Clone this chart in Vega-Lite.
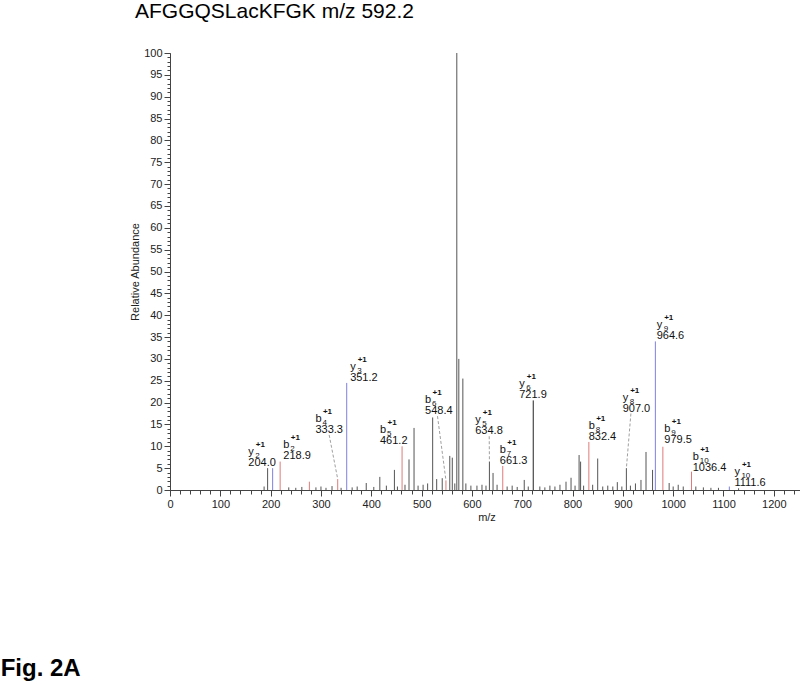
{
  "$schema": "https://vega.github.io/schema/vega-lite/v6.json",
  "padding": {"left": 0, "top": 1, "right": 0, "bottom": 0},
  "background": "white",
  "title": {"text": "Fig. 2A", "orient": "bottom", "anchor": "start", "frame": "bounds", "font": "Liberation Sans", "fontSize": 24, "fontWeight": "bold", "color": "#000", "offset": 135, "dx": -129},
  "config": {"view": {"stroke": null}},
  "datasets": {
    "peaks": [
      {"mz": 187, "ab": 0.8, "kind": "g"}, {"mz": 194, "ab": 5.0, "kind": "g"}, {"mz": 204.0, "ab": 5.0, "kind": "y"},
      {"mz": 218.9, "ab": 6.5, "kind": "b"}, {"mz": 236, "ab": 0.6, "kind": "g"}, {"mz": 250, "ab": 0.5, "kind": "g"},
      {"mz": 262, "ab": 0.7, "kind": "g"}, {"mz": 277, "ab": 1.9, "kind": "b"}, {"mz": 290, "ab": 0.6, "kind": "g"},
      {"mz": 300, "ab": 0.8, "kind": "g"}, {"mz": 310, "ab": 0.5, "kind": "g"}, {"mz": 322, "ab": 0.9, "kind": "g"},
      {"mz": 333.3, "ab": 2.5, "kind": "b"}, {"mz": 340, "ab": 0.5, "kind": "g"}, {"mz": 351.2, "ab": 24.5, "kind": "y"},
      {"mz": 362, "ab": 0.6, "kind": "g"}, {"mz": 372, "ab": 0.8, "kind": "g"}, {"mz": 390, "ab": 1.6, "kind": "g"},
      {"mz": 405, "ab": 0.7, "kind": "g"}, {"mz": 417, "ab": 3.0, "kind": "g"}, {"mz": 430, "ab": 1.0, "kind": "g"},
      {"mz": 446, "ab": 4.6, "kind": "g"}, {"mz": 452, "ab": 0.8, "kind": "g"}, {"mz": 461.2, "ab": 10.0, "kind": "b"},
      {"mz": 467, "ab": 1.2, "kind": "g"}, {"mz": 475, "ab": 7.0, "kind": "g"}, {"mz": 485, "ab": 14.2, "kind": "g"},
      {"mz": 493, "ab": 1.0, "kind": "g"}, {"mz": 503, "ab": 1.2, "kind": "g"}, {"mz": 512, "ab": 1.5, "kind": "g"},
      {"mz": 522, "ab": 16.6, "kind": "g"}, {"mz": 530, "ab": 2.5, "kind": "g"}, {"mz": 541, "ab": 2.7, "kind": "g"},
      {"mz": 548.4, "ab": 2.2, "kind": "b"}, {"mz": 556, "ab": 7.8, "kind": "g"}, {"mz": 561, "ab": 7.4, "kind": "g"},
      {"mz": 566, "ab": 1.5, "kind": "g"}, {"mz": 570, "ab": 100, "kind": "g"}, {"mz": 574, "ab": 30, "kind": "g"},
      {"mz": 582, "ab": 25.5, "kind": "g"}, {"mz": 588, "ab": 1.5, "kind": "g"}, {"mz": 598, "ab": 1.0, "kind": "g"},
      {"mz": 610, "ab": 1.0, "kind": "g"}, {"mz": 620, "ab": 1.2, "kind": "g"}, {"mz": 628, "ab": 1.0, "kind": "g"},
      {"mz": 634.8, "ab": 6.5, "kind": "g"}, {"mz": 642, "ab": 3.9, "kind": "g"}, {"mz": 650, "ab": 1.2, "kind": "g"},
      {"mz": 661.3, "ab": 5.5, "kind": "b"}, {"mz": 670, "ab": 0.8, "kind": "g"}, {"mz": 680, "ab": 1.0, "kind": "g"},
      {"mz": 690, "ab": 0.7, "kind": "g"}, {"mz": 704, "ab": 2.3, "kind": "g"}, {"mz": 712, "ab": 0.8, "kind": "g"},
      {"mz": 721.9, "ab": 20.5, "kind": "k"}, {"mz": 735, "ab": 0.8, "kind": "g"}, {"mz": 745, "ab": 0.6, "kind": "g"},
      {"mz": 755, "ab": 1.0, "kind": "g"}, {"mz": 765, "ab": 0.8, "kind": "g"}, {"mz": 775, "ab": 1.2, "kind": "g"},
      {"mz": 787, "ab": 1.9, "kind": "g"}, {"mz": 797, "ab": 2.8, "kind": "g"}, {"mz": 805, "ab": 1.0, "kind": "g"},
      {"mz": 813, "ab": 8.0, "kind": "g"}, {"mz": 816, "ab": 6.5, "kind": "g"}, {"mz": 822, "ab": 1.0, "kind": "g"},
      {"mz": 832.4, "ab": 11.0, "kind": "b"}, {"mz": 840, "ab": 1.2, "kind": "g"}, {"mz": 850, "ab": 7.2, "kind": "g"},
      {"mz": 860, "ab": 0.8, "kind": "g"}, {"mz": 870, "ab": 1.0, "kind": "g"}, {"mz": 880, "ab": 0.8, "kind": "g"},
      {"mz": 889, "ab": 1.8, "kind": "g"}, {"mz": 898, "ab": 0.8, "kind": "g"}, {"mz": 907.0, "ab": 5.0, "kind": "g"},
      {"mz": 915, "ab": 1.0, "kind": "g"}, {"mz": 925, "ab": 1.5, "kind": "g"}, {"mz": 936, "ab": 2.3, "kind": "g"},
      {"mz": 946, "ab": 8.7, "kind": "g"}, {"mz": 959, "ab": 4.6, "kind": "g"}, {"mz": 964.6, "ab": 34.0, "kind": "y"},
      {"mz": 979.5, "ab": 9.9, "kind": "b"}, {"mz": 992, "ab": 1.6, "kind": "g"}, {"mz": 1000, "ab": 0.8, "kind": "g"},
      {"mz": 1010, "ab": 1.2, "kind": "g"}, {"mz": 1020, "ab": 0.8, "kind": "g"}, {"mz": 1036.4, "ab": 4.2, "kind": "b"},
      {"mz": 1045, "ab": 0.8, "kind": "g"}, {"mz": 1060, "ab": 0.6, "kind": "g"}, {"mz": 1075, "ab": 0.5, "kind": "g"},
      {"mz": 1090, "ab": 0.5, "kind": "g"}, {"mz": 1111.6, "ab": 0.8, "kind": "y"}, {"mz": 1130, "ab": 0.4, "kind": "g"}
    ],
    "labels": [
      {"ion": "y", "num": "2", "val": "204.0", "lx": 155.7, "ly": 5.0},
      {"ion": "b", "num": "2", "val": "218.9", "lx": 225.3, "ly": 6.6},
      {"ion": "b", "num": "4", "val": "333.3", "lx": 289, "ly": 12.6},
      {"ion": "y", "num": "3", "val": "351.2", "lx": 358, "ly": 24.5},
      {"ion": "b", "num": "5", "val": "461.2", "lx": 417.3, "ly": 10.0},
      {"ion": "b", "num": "6", "val": "548.4", "lx": 507, "ly": 16.9},
      {"ion": "y", "num": "5", "val": "634.8", "lx": 606.6, "ly": 12.3},
      {"ion": "b", "num": "7", "val": "661.3", "lx": 655.5, "ly": 5.5},
      {"ion": "y", "num": "6", "val": "721.9", "lx": 694.1, "ly": 20.7},
      {"ion": "b", "num": "8", "val": "832.4", "lx": 832, "ly": 11.0},
      {"ion": "y", "num": "8", "val": "907.0", "lx": 899.6, "ly": 17.5},
      {"ion": "y", "num": "9", "val": "964.6", "lx": 967.2, "ly": 34.0},
      {"ion": "b", "num": "9", "val": "979.5", "lx": 982.5, "ly": 10.3},
      {"ion": "b", "num": "10", "val": "1036.4", "lx": 1038.8, "ly": 3.95},
      {"ion": "y", "num": "10", "val": "1111.6", "lx": 1121.7, "ly": 0.5}
    ],
    "leaders": [
      {"x1": 316.3, "y1": 12.6, "x2": 333.3, "y2": 2.5},
      {"x1": 531.6, "y1": 16.9, "x2": 548.4, "y2": 2.2},
      {"x1": 634.4, "y1": 12.3, "x2": 634.8, "y2": 6.5},
      {"x1": 916, "y1": 17.5, "x2": 907.0, "y2": 5.0}
    ]
  },
  "vconcat": [
    {
      "title": {"text": "AFGGQSLacKFGK m/z 592.2", "anchor": "start", "frame": "group", "font": "Liberation Sans", "fontSize": 21, "fontWeight": "normal", "color": "#000", "dx": -35, "offset": 25},
      "width": 633,
      "height": 437,
      "resolve": {"axis": {"x": "independent", "y": "independent"}},
      "layer": [
        {
          "layer": [
            {
              "data": {"name": "peaks"},
              "mark": {"type": "rule", "strokeWidth": 1},
              "encoding": {
                "x": {"field": "mz", "type": "quantitative", "scale": {"domain": [0, 1258], "nice": false, "zero": false}, "axis": null},
                "y": {"field": "ab", "type": "quantitative", "scale": {"domain": [0, 100], "nice": false}, "axis": null},
                "y2": {"datum": 0},
                "color": {"field": "kind", "type": "nominal", "legend": null,
                  "scale": {"domain": ["g", "y", "b", "k"], "range": ["#555555", "#7f7fe0", "#e07a7a", "#222222"]}}
              }
            },
            {
              "data": {"name": "leaders"},
              "mark": {"type": "rule", "strokeWidth": 1, "strokeDash": [3, 2], "color": "#a0a0a0"},
              "encoding": {
                "x": {"field": "x1", "type": "quantitative", "scale": {"domain": [0, 1258]}, "axis": null},
                "y": {"field": "y1", "type": "quantitative", "scale": {"domain": [0, 100]}, "axis": null},
                "x2": {"field": "x2"},
                "y2": {"field": "y2"}
              }
            },
            {
              "data": {"name": "labels"},
              "mark": {"type": "text", "align": "left", "baseline": "alphabetic", "dy": -2, "font": "Liberation Sans", "fontSize": 11, "color": "#111"},
              "encoding": {
                "x": {"field": "lx", "type": "quantitative", "scale": {"domain": [0, 1258]}, "axis": null},
                "y": {"field": "ly", "type": "quantitative", "scale": {"domain": [0, 100]}, "axis": null},
                "text": {"field": "val"}
              }
            },
            {
              "data": {"name": "labels"},
              "mark": {"type": "text", "align": "left", "baseline": "alphabetic", "dy": -13, "font": "Liberation Sans", "fontSize": 11, "color": "#111"},
              "encoding": {
                "x": {"field": "lx", "type": "quantitative", "scale": {"domain": [0, 1258]}, "axis": null},
                "y": {"field": "ly", "type": "quantitative", "scale": {"domain": [0, 100]}, "axis": null},
                "text": {"field": "ion"}
              }
            },
            {
              "data": {"name": "labels"},
              "mark": {"type": "text", "align": "left", "baseline": "alphabetic", "dx": 7, "dy": -10, "font": "Liberation Sans", "fontSize": 8, "color": "#111"},
              "encoding": {
                "x": {"field": "lx", "type": "quantitative", "scale": {"domain": [0, 1258]}, "axis": null},
                "y": {"field": "ly", "type": "quantitative", "scale": {"domain": [0, 100]}, "axis": null},
                "text": {"field": "num"}
              }
            },
            {
              "data": {"name": "labels"},
              "mark": {"type": "text", "align": "left", "baseline": "alphabetic", "dx": 7.5, "dy": -21, "font": "Liberation Sans", "fontSize": 8, "fontWeight": "bold", "color": "#111"},
              "encoding": {
                "x": {"field": "lx", "type": "quantitative", "scale": {"domain": [0, 1258]}, "axis": null},
                "y": {"field": "ly", "type": "quantitative", "scale": {"domain": [0, 100]}, "axis": null},
                "text": {"value": "+1"}
              }
            }
          ]
        },
        {
          "data": {"name": "peaks"},
          "mark": {"type": "rule", "strokeOpacity": 0},
          "encoding": {
            "x": {"field": "mz", "type": "quantitative", "scale": {"domain": [0, 1258], "nice": false, "zero": false},
              "axis": {"title": "m/z", "orient": "bottom", "titleFont": "Liberation Sans", "titleFontSize": 11, "titleFontWeight": "normal", "titleColor": "#222", "titlePadding": 2,
                "values": [0, 100, 200, 300, 400, 500, 600, 700, 800, 900, 1000, 1100, 1200],
                "labelFont": "Liberation Sans", "labelFontSize": 11, "labelColor": "#222", "labelPadding": 2, "labelFlush": false, "labelOverlap": false,
                "tickSize": 6, "tickColor": "#444", "domainColor": "#444", "grid": false, "format": "d"}},
            "y": {"field": "ab", "type": "quantitative", "scale": {"domain": [0, 100], "nice": false},
              "axis": {"title": "Relative Abundance", "orient": "left", "titleFont": "Liberation Sans", "titleFontSize": 11, "titleFontWeight": "normal", "titleColor": "#222", "titlePadding": 3,
                "values": [0, 5, 10, 15, 20, 25, 30, 35, 40, 45, 50, 55, 60, 65, 70, 75, 80, 85, 90, 95, 100],
                "labelFont": "Liberation Sans", "labelFontSize": 11, "labelColor": "#222", "labelPadding": 2, "labelFlush": false, "labelOverlap": false,
                "tickSize": 6, "tickColor": "#444", "domainColor": "#444", "grid": false, "format": "d"}},
            "y2": {"datum": 0}
          }
        },
        {
          "data": {"name": "peaks"},
          "mark": {"type": "rule", "strokeOpacity": 0},
          "encoding": {
            "x": {"field": "mz", "type": "quantitative", "scale": {"domain": [0, 1258], "nice": false, "zero": false},
              "axis": {"title": null, "orient": "bottom", "labels": false, "domain": false, "grid": false, "tickSize": 4, "tickColor": "#444",
                "values": [0,20,40,60,80,100,120,140,160,180,200,220,240,260,280,300,320,340,360,380,400,420,440,460,480,500,520,540,560,580,600,620,640,660,680,700,720,740,760,780,800,820,840,860,880,900,920,940,960,980,1000,1020,1040,1060,1080,1100,1120,1140,1160,1180,1200,1220,1240]}},
            "y": {"field": "ab", "type": "quantitative", "scale": {"domain": [0, 100], "nice": false},
              "axis": {"title": null, "orient": "left", "labels": false, "domain": false, "grid": false, "tickSize": 3, "tickColor": "#444",
                "values": [0,1,2,3,4,5,6,7,8,9,10,11,12,13,14,15,16,17,18,19,20,21,22,23,24,25,26,27,28,29,30,31,32,33,34,35,36,37,38,39,40,41,42,43,44,45,46,47,48,49,50,51,52,53,54,55,56,57,58,59,60,61,62,63,64,65,66,67,68,69,70,71,72,73,74,75,76,77,78,79,80,81,82,83,84,85,86,87,88,89,90,91,92,93,94,95,96,97,98,99,100]}},
            "y2": {"datum": 0}
          }
        }
      ]
    }
  ]
}
